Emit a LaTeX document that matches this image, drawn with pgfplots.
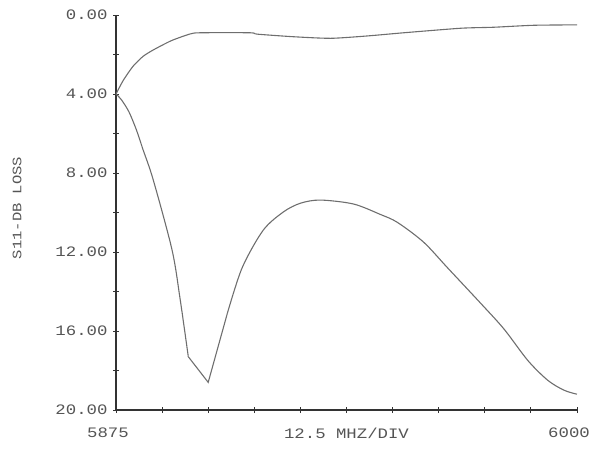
\documentclass[border=0pt]{standalone}
\usepackage{pgfplots}
\pgfplotsset{compat=1.18}
\usepackage{fontspec}
\newfontfamily\plotfont[FakeStretch=1.2]{Liberation Mono}
\definecolor{txt}{HTML}{555555}
\definecolor{crv}{HTML}{6E6E6E}
\begin{document}
\begin{tikzpicture}
\begin{axis}[
  at={(116bp,434bp)}, anchor=north west,
  scale only axis, width=461bp, height=395bp,
  xmin=5875, xmax=6000, ymin=0, ymax=20, y dir=reverse,
  axis lines=left, axis line style={black!80, line width=1.1pt, -},
  xtick={5875,5887.5,...,6000},
  xticklabels={5875,,,,,,,,,,6000},
  ytick={0,4,8,12,16,20},
  yticklabels={0.00,4.00,8.00,12.00,16.00,20.00},
  minor ytick={2,6,10,14,18},
  tick align=center, major tick length=6bp, minor tick length=6bp,
  tick style={black!80, line width=0.9pt},
  every tick label/.append style={font=\plotfont\fontsize{14.5}{16}\selectfont, text=txt},
  xticklabel style={xshift=-8bp, yshift=-11bp},
  yticklabel style={xshift=-2bp},
  xlabel={12.5 MHZ/DIV},
  xlabel style={font=\plotfont\fontsize{14.5}{16}\selectfont, text=txt, at={(axis description cs:0.5,0)}, anchor=north, yshift=-15bp},
  clip=false,
]
\addplot[crv, line width=1.1pt, smooth, tension=0.4] coordinates {
(5875,4.0) (5877,3.3) (5879.6,2.6) (5882.3,2.1) (5885.1,1.77) (5890,1.3)
(5895.1,0.96) (5897.8,0.9) (5911.4,0.9) (5913.3,0.97) (5923.1,1.1)
(5933.2,1.18) (5943.2,1.06) (5953,0.9) (5968.5,0.67) (5977.4,0.62)
(5988.3,0.52) (6000,0.5)
};
\addplot[crv, line width=1.1pt, smooth, tension=0.5] coordinates {
(5875,4.0) (5876.5,4.3) (5878.5,4.9) (5880.5,5.8) (5882.3,6.8) (5885.1,8.35) (5890.2,11.9)
(5892.4,14.4) (5894.6,17.3)
};
\addplot[crv, line width=1.1pt] coordinates {
(5894.6,17.3) (5900.0,18.6) (5905.2,15.1)
};
\addplot[crv, line width=1.1pt, smooth, tension=0.5] coordinates {
(5905.2,15.1) (5909.2,12.8)
(5914.9,10.9) (5920.4,9.97) (5925,9.53) (5930.4,9.37) (5939.4,9.57)
(5946.7,10.1) (5951.3,10.5) (5958.4,11.5) (5964.9,12.8) (5973.9,14.6)
(5980.2,15.9) (5986.7,17.5) (5992.1,18.5) (5996.5,19.0) (6000,19.2)
};
\end{axis}
\node[rotate=90, font=\plotfont\fontsize{13}{15}\selectfont, text=txt, inner sep=0pt] at (17bp,241bp) {S11-DB LOSS};
\pgfresetboundingbox
\path (0,0) rectangle (592bp,449bp);
\end{tikzpicture}
\end{document}
